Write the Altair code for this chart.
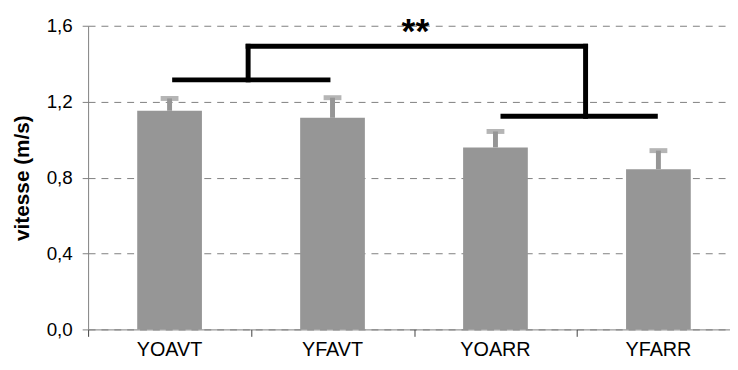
import altair as alt
import pandas as pd

# ---- data ----
categories = ["YOAVT", "YFAVT", "YOARR", "YFARR"]
means = [1.152, 1.115, 0.959, 0.844]
sd = [0.065, 0.106, 0.084, 0.098]
y_ticks = [0.0, 0.4, 0.8, 1.2, 1.6]
x_boundaries = [0, 1, 2, 3, 4]   # category boundaries (in category units)

# significance bracket segments, x in category units, y in m/s
seg_x = [0.531, 0.982, 0.982, 3.053, 2.546]
seg_x2 = [1.472, 0.982, 3.053, 3.053, 3.481]
seg_y = [1.315, 1.315, 1.492, 1.492, 1.123]
seg_y2 = [1.315, 1.492, 1.492, 1.123, 1.123]
star_x = [2.009]
star_y = [1.511]
star_label = ["**"]

FONT = "Liberation Sans"
GRAY = "#969696"

bars_df = pd.DataFrame({
    "groupe": categories,
    "vitesse": means,
    "haut": [m + s for m, s in zip(means, sd)],
})
seg_df = pd.DataFrame({"x": seg_x, "x2": seg_x2, "y": seg_y, "y2": seg_y2})
star_df = pd.DataFrame({"x": star_x, "y": star_y, "label": star_label})

W, H = 649, 307
units_visible = 3.9393   # the last category is partly cut at the right edge
band_scale = alt.Scale(domain=categories, paddingInner=0.1214, paddingOuter=0.0303, align=1)
y_scale = alt.Scale(domain=[0, 1.6], nice=False, zero=True)
q_scale = alt.Scale(domain=[0, units_visible], nice=False, zero=False)

x_axis = alt.Axis(
    title=None, orient="bottom", ticks=False, tickSize=0, labelAngle=0,
    labelFont=FONT, labelFontSize=20, labelColor="black",
    labelBaseline="alphabetic", labelPadding=26,
    domainColor="#808080", grid=False,
)
q_axis = alt.Axis(
    title=None, orient="bottom", values=x_boundaries, labels=False, domain=False,
    grid=False, ticks=True, tickSize=7, tickColor="#404040",
)
y_axis = alt.Axis(
    title="vitesse (m/s)", values=y_ticks,
    labelExpr="replace(format(datum.value, '.1f'), '.', ',')",
    labelFont=FONT, labelFontSize=19, labelColor="black", labelPadding=10,
    tickSize=6, tickColor="#808080", domainColor="#808080",
    grid=True, gridColor="#808080", gridDash=[7, 6], gridWidth=1,
    titleFont=FONT, titleFontSize=21, titleFontWeight="bold", titleColor="black",
    titleAngle=270, titleAlign="center", titleBaseline="alphabetic",
    titleX=-60, titleY=153.5,
)

x_enc = alt.X("groupe:N", sort=categories, scale=band_scale, axis=x_axis)

base = alt.Chart(bars_df)
bars = base.mark_bar(color=GRAY, width={"band": 0.452}).encode(
    x=x_enc,
    y=alt.Y("vitesse:Q", scale=y_scale, axis=y_axis),
)
stems = base.mark_rule(color=GRAY, strokeWidth=5).encode(
    x=x_enc,
    y=alt.Y("vitesse:Q", scale=y_scale, axis=y_axis),
    y2="haut:Q",
)
caps = base.mark_tick(color=GRAY, thickness=5, size=18, orient="horizontal").encode(
    x=x_enc,
    y=alt.Y("haut:Q", scale=y_scale, axis=y_axis),
)
main = alt.layer(bars, stems, caps)

brackets = alt.Chart(seg_df).mark_rule(color="black", strokeWidth=5, strokeCap="square").encode(
    x=alt.X("x:Q", scale=q_scale, axis=q_axis),
    x2="x2:Q",
    y=alt.Y("y:Q", scale=y_scale, axis=y_axis),
    y2="y2:Q",
)
star = alt.Chart(star_df).mark_text(
    font=FONT, fontSize=36, fontWeight="bold", color="black",
    align="center", baseline="alphabetic",
).encode(
    x=alt.X("x:Q", scale=q_scale, axis=q_axis),
    y=alt.Y("y:Q", scale=y_scale, axis=y_axis),
    text="label:N",
)
annot = alt.layer(brackets, star)

chart = alt.layer(main, annot).resolve_scale(x="independent").properties(
    width=W, height=H,
    autosize=alt.AutoSizeParams(type="none"),
    padding={"left": 81, "top": 16, "right": 0, "bottom": 31},
).configure_view(stroke=None)

chart.save("out.html", embed_options={"renderer": "svg", "actions": False})
